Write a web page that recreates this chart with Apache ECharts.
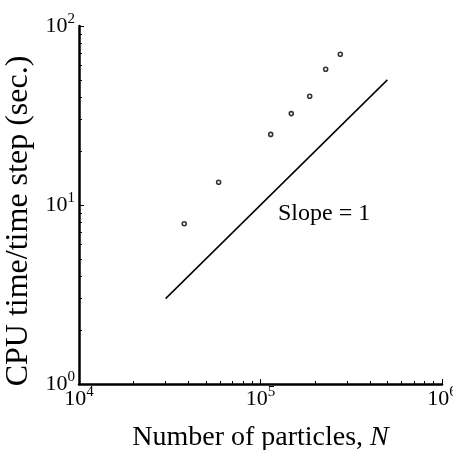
<!DOCTYPE html>
<html>
<head>
<meta charset="utf-8">
<script src="https://cdn.jsdelivr.net/npm/echarts@6/dist/echarts.min.js"></script>
<style>
  html, body { margin: 0; padding: 0; background: #fff; }
  #chart { width: 453px; height: 450px; }
</style>
</head>
<body>
<div id="chart"></div>
<script>
    // measured points (CPU time per step vs number of particles)
    const particleN = [38000, 58800, 113800, 147800, 186700, 228600, 275300];
    const cpuTime = [7.86, 13.4, 24.8, 32.4, 40.5, 57.3, 69.5];

    // reference line with slope 1
    const slopeN = [30000, 500000];
    const slopeT = [3, 50];

    const xMajor = [1e4, 1e5, 1e6];
    const yMajor = [1, 10, 100];
    const xMinor = [2e4, 3e4, 4e4, 5e4, 6e4, 7e4, 8e4, 9e4, 2e5, 3e5, 4e5, 5e5, 6e5, 7e5, 8e5, 9e5];
    const yMinor = [2, 3, 4, 5, 6, 7, 8, 9, 20, 30, 40, 50, 60, 70, 80, 90];

    const font = 'Liberation Serif';

    const powLabel = function (v) {
        return '{b|10}{s|' + Math.round(Math.log10(v)) + '}';
    };
    const labelRich = {
        b: { fontFamily: font, fontSize: 22, lineHeight: 22, color: '#000', verticalAlign: 'bottom' },
        s: { fontFamily: font, fontSize: 15, lineHeight: 15, color: '#000', padding: [0, 0, 13, 0] }
    };

    const chart = echarts.init(document.getElementById('chart'));

    chart.setOption({
        animation: false,
        grid: { left: 79, right: 11, top: 26, bottom: 66, outerBoundsMode: 'none', containLabel: false },
        xAxis: [{
            type: 'log',
            logBase: 10,
            min: 1e4,
            max: 1e6,
            position: 'bottom',
            name: 'Number of particles, {i|N}',
            nameLocation: 'middle',
            nameGap: 40,
            nameTextStyle: {
                fontFamily: font, fontSize: 28, color: '#000',
                rich: { i: { fontFamily: font, fontSize: 28, fontStyle: 'italic', color: '#000' } }
            },
            splitLine: { show: false },
            axisLine: { lineStyle: { color: '#000', width: 2.5 } },
            axisTick: { inside: true, length: 5, customValues: xMajor, lineStyle: { color: '#000' } },
            axisLabel: { customValues: xMajor, margin: 4, formatter: powLabel, rich: labelRich }
        }, {
            // minor ticks only
            type: 'log',
            logBase: 10,
            min: 1e4,
            max: 1e6,
            position: 'bottom',
            offset: 0,
            splitLine: { show: false },
            axisLine: { show: false },
            axisTick: { inside: true, length: 3, customValues: xMinor, lineStyle: { color: '#000' } },
            axisLabel: { show: false }
        }],
        yAxis: [{
            type: 'log',
            logBase: 10,
            min: 1,
            max: 100,
            position: 'left',
            name: 'CPU time/time step (sec.)',
            nameLocation: 'middle',
            nameGap: 41,
            nameTextStyle: { fontFamily: font, fontSize: 32, color: '#000', padding: [0, 32, 0, 0] },
            splitLine: { show: false },
            axisLine: { lineStyle: { color: '#000', width: 2.5 } },
            axisTick: { inside: true, length: 5, customValues: yMajor, lineStyle: { color: '#000' } },
            axisLabel: { customValues: yMajor, margin: 4, formatter: powLabel, rich: labelRich }
        }, {
            type: 'log',
            logBase: 10,
            min: 1,
            max: 100,
            position: 'left',
            offset: 0,
            splitLine: { show: false },
            axisLine: { show: false },
            axisTick: { inside: true, length: 3, customValues: yMinor, lineStyle: { color: '#000' } },
            axisLabel: { show: false }
        }],
        graphic: [{
            type: 'text',
            left: 278,
            top: 202,
            style: { text: 'Slope = 1', font: '24px "Liberation Serif"', fill: '#000' }
        }],
        series: [{
            type: 'line',
            data: slopeN.map((n, i) => [n, slopeT[i]]),
            showSymbol: false,
            lineStyle: { color: '#000', width: 1.5 }
        }, {
            type: 'scatter',
            data: particleN.map((n, i) => [n, cpuTime[i]]),
            symbol: 'circle',
            symbolSize: 4,
            itemStyle: { color: '#fff', borderColor: '#000', borderWidth: 1.6 }
        }]
    });
</script>
</body>
</html>
